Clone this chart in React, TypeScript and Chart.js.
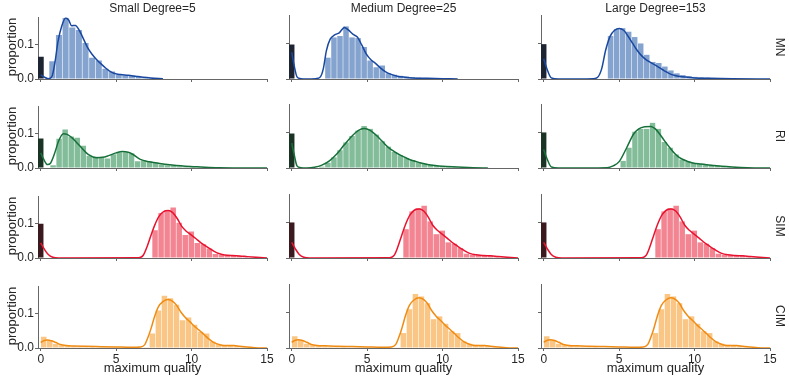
import React, { useEffect, useRef } from 'react';
import { Chart, registerables } from 'chart.js';

Chart.register(...registerables);
Chart.defaults.font.family = "'Liberation Sans', Arial, sans-serif";
Chart.defaults.color = '#262626';

// ---------- labels ----------
const COL_TITLES = ['Small Degree=5', 'Medium Degree=25', 'Large Degree=153'];
const ROW_TITLES = ['MN', 'RI', 'SIM', 'CIM'];
const X_LABEL = 'maximum quality';
const Y_LABEL = 'proportion';
const X_TICKS = [0, 5, 10, 15];
const Y_TICKS = [0, 0.1];
const X_MIN = -0.18;
const X_MAX = 15;
const Y_MAX = 0.18;

// ---------- data ----------
// bin spec = [left edge of first coloured bin, bin width]
const MN_SMALL_ZERO = 0.065;
const MN_SMALL_BIN = [0.55, 0.44];
const MN_SMALL_BARS = [0.052, 0.128, 0.178, 0.15, 0.143, 0.105, 0.062, 0.054, 0.03, 0.022, 0.012, 0.011, 0.01, 0.007, 0.004, 0.003, 0.002];
const MN_SMALL_KDE = [[0, 0.012], [0.25, 0.005], [0.5, 0.001], [0.75, 0.008], [0.95, 0.05], [1.15, 0.11], [1.4, 0.155], [1.65, 0.178], [1.85, 0.172], [2.05, 0.155], [2.3, 0.156], [2.55, 0.142], [2.8, 0.12], [3.1, 0.092], [3.4, 0.072], [3.7, 0.057], [4.0, 0.044], [4.3, 0.032], [4.6, 0.022], [4.9, 0.016], [5.3, 0.013], [5.8, 0.011], [6.3, 0.008], [6.8, 0.005], [7.3, 0.003], [8.1, 0.001]];

const MN_MEDIUM_ZERO = 0.097;
const MN_MEDIUM_BIN = [2.2, 0.4];
const MN_MEDIUM_BARS = [0.06, 0.117, 0.121, 0.148, 0.117, 0.115, 0.09, 0.052, 0.033, 0.038, 0.016, 0.012, 0.009, 0.007, 0.005, 0.004, 0.003, 0.002, 0.002, 0.001, 0.001, 0.001];
const MN_MEDIUM_KDE = [[0, 0.075], [0.15, 0.04], [0.35, 0.006], [0.6, 0.001], [1.0, 0], [1.6, 0.001], [1.9, 0.006], [2.1, 0.03], [2.3, 0.08], [2.55, 0.112], [2.85, 0.124], [3.15, 0.13], [3.5, 0.145], [3.75, 0.138], [4.05, 0.126], [4.35, 0.118], [4.65, 0.095], [4.95, 0.07], [5.25, 0.054], [5.55, 0.044], [5.85, 0.032], [6.2, 0.021], [6.6, 0.013], [7.0, 0.008], [7.5, 0.005], [8.0, 0.003], [9.0, 0.002], [10.0, 0.001], [11.0, 0]];

const MN_LARGE_ZERO = 0.098;
const MN_LARGE_BIN = [4.23, 0.4];
const MN_LARGE_BARS = [0.121, 0.14, 0.143, 0.133, 0.118, 0.1, 0.068, 0.048, 0.045, 0.035, 0.024, 0.016, 0.011, 0.008, 0.006, 0.005, 0.004, 0.003, 0.002, 0.002, 0.002, 0.001, 0.001, 0.001];
const MN_LARGE_KDE = [[0, 0.057], [0.2, 0.03], [0.5, 0.003], [1, 0], [3.3, 0.001], [3.6, 0.006], [3.85, 0.03], [4.1, 0.08], [4.4, 0.12], [4.7, 0.137], [5.0, 0.142], [5.3, 0.137], [5.6, 0.12], [5.9, 0.1], [6.2, 0.08], [6.5, 0.065], [6.8, 0.054], [7.1, 0.046], [7.4, 0.039], [7.7, 0.031], [8.0, 0.023], [8.3, 0.016], [8.7, 0.01], [9.2, 0.006], [10, 0.003], [11, 0.002], [12.5, 0.001], [15, 0]];

const RI_SMALL_ZERO = 0.086;
const RI_SMALL_BIN = [0.62, 0.4];
const RI_SMALL_BARS = [0.008, 0.085, 0.112, 0.092, 0.088, 0.065, 0.036, 0.033, 0.03, 0.028, 0.04, 0.046, 0.046, 0.042, 0.02, 0.022, 0.02, 0.015, 0.01, 0.008, 0.007, 0.005, 0.004, 0.003, 0.002, 0.002, 0.001, 0.001];
const RI_SMALL_KDE = [[0, 0.044], [0.2, 0.025], [0.45, 0.01], [0.65, 0.014], [0.9, 0.04], [1.2, 0.08], [1.5, 0.1], [1.75, 0.098], [2.1, 0.087], [2.6, 0.064], [3.2, 0.038], [3.7, 0.03], [4.1, 0.031], [4.5, 0.036], [5.0, 0.044], [5.4, 0.048], [5.8, 0.046], [6.1, 0.04], [6.6, 0.025], [7.2, 0.018], [7.8, 0.014], [8.4, 0.01], [9.0, 0.007], [9.6, 0.005], [10.6, 0.003], [11.8, 0.001], [15, 0]];

const RI_MEDIUM_ZERO = 0.097;
const RI_MEDIUM_BIN = [1.8, 0.4];
const RI_MEDIUM_BARS = [0.004, 0.015, 0.03, 0.05, 0.072, 0.09, 0.105, 0.118, 0.11, 0.094, 0.075, 0.06, 0.045, 0.036, 0.028, 0.022, 0.016, 0.012, 0.009, 0.006, 0.005, 0.004, 0.003, 0.002, 0.002, 0.001, 0.001];
const RI_MEDIUM_KDE = [[0, 0.07], [0.15, 0.04], [0.35, 0.006], [0.6, 0.001], [1.0, 0], [1.5, 0.002], [2.0, 0.008], [2.5, 0.02], [3.0, 0.04], [3.5, 0.066], [4.0, 0.09], [4.4, 0.105], [4.8, 0.111], [5.2, 0.106], [5.6, 0.092], [6.0, 0.075], [6.4, 0.058], [6.8, 0.046], [7.2, 0.036], [7.6, 0.028], [8.0, 0.021], [8.5, 0.015], [9.0, 0.01], [9.5, 0.007], [10, 0.005], [11, 0.003], [12, 0.001], [13, 0]];

const RI_LARGE_ZERO = 0.1;
const RI_LARGE_BIN = [5.07, 0.39];
const RI_LARGE_BARS = [0.02, 0.057, 0.102, 0.11, 0.11, 0.127, 0.11, 0.073, 0.057, 0.038, 0.024, 0.019, 0.014, 0.012, 0.01, 0.008, 0.006, 0.004, 0.003, 0.002, 0.002, 0.001, 0.001];
const RI_LARGE_KDE = [[0, 0.052], [0.2, 0.028], [0.5, 0.003], [1, 0], [4.2, 0.001], [4.6, 0.006], [5.0, 0.018], [5.5, 0.057], [5.95, 0.095], [6.3, 0.11], [6.7, 0.116], [7.1, 0.117], [7.4, 0.11], [7.7, 0.095], [8.0, 0.077], [8.4, 0.055], [8.7, 0.04], [9.0, 0.029], [9.5, 0.019], [9.9, 0.014], [10.4, 0.011], [10.8, 0.009], [11.3, 0.007], [11.8, 0.005], [12.5, 0.003], [13.5, 0.001], [15, 0]];

const SIM_ZERO = 0.1;
const SIM_BIN = [7.38, 0.4];
const SIM_BARS = [0.081, 0.131, 0.14, 0.147, 0.103, 0.067, 0.077, 0.044, 0.04, 0.028, 0.012, 0.009, 0.008, 0.007, 0.006, 0.004, 0.002];
const SIM_KDE = [[0, 0.044], [0.25, 0.025], [0.5, 0.01], [0.8, 0.002], [1.2, 0], [6.5, 0.001], [6.8, 0.008], [7.05, 0.033], [7.3, 0.065], [7.55, 0.095], [7.85, 0.122], [8.15, 0.135], [8.45, 0.138], [8.75, 0.132], [9.05, 0.115], [9.35, 0.092], [9.65, 0.078], [9.95, 0.068], [10.3, 0.056], [10.6, 0.045], [11.0, 0.033], [11.4, 0.022], [11.8, 0.013], [12.2, 0.009], [12.7, 0.007], [13.2, 0.006], [13.7, 0.004], [14.3, 0.002], [15, 0]];

const CIM_BIN = [0, 0.4];
const CIM_BARS = [0.033, 0.023, 0.012, 0.008, 0.006, 0.005, 0.004, 0.003, 0.003, 0.002, 0.002, 0.002, 0.001, 0.001, 0.001, 0.001, 0.001, 0.001, 0.042, 0.109, 0.152, 0.145, 0.126, 0.081, 0.089, 0.068, 0.047, 0.042, 0.019, 0.012, 0.009, 0.008, 0.006, 0.003, 0.002];
const CIM_KDE = [[0, 0.016], [0.2, 0.021], [0.45, 0.023], [0.7, 0.021], [1.0, 0.016], [1.3, 0.01], [1.7, 0.007], [2.2, 0.006], [3, 0.005], [4, 0.004], [5, 0.003], [6, 0.002], [6.6, 0.003], [6.9, 0.01], [7.1, 0.03], [7.3, 0.055], [7.55, 0.092], [7.8, 0.12], [8.1, 0.135], [8.45, 0.141], [8.75, 0.136], [9.0, 0.125], [9.3, 0.104], [9.6, 0.088], [9.9, 0.076], [10.2, 0.063], [10.5, 0.052], [10.8, 0.04], [11.1, 0.028], [11.4, 0.018], [11.7, 0.012], [12.0, 0.008], [12.4, 0.007], [12.8, 0.007], [13.2, 0.005], [13.7, 0.003], [14.2, 0.001], [15, 0]];

// ---------- styles ----------
const BAR_COLORS = ['#84a3cf', '#82bc99', '#f38592', '#f9c685'];
const LINE_COLORS = ['#1a48a0', '#17703a', '#e8132f', '#f08c14'];
const DARK_COLORS = ['#1d2533', '#1b3325', '#3b1a1f', '#1d2533'];
const AXIS_COLOR = '#666666';
const TEXT_COLOR = '#262626';

type PanelData = { zero: number | null; bin: number[]; bars: number[]; kde: number[][] };

const PANELS: PanelData[][] = [
  [
    { zero: MN_SMALL_ZERO, bin: MN_SMALL_BIN, bars: MN_SMALL_BARS, kde: MN_SMALL_KDE },
    { zero: MN_MEDIUM_ZERO, bin: MN_MEDIUM_BIN, bars: MN_MEDIUM_BARS, kde: MN_MEDIUM_KDE },
    { zero: MN_LARGE_ZERO, bin: MN_LARGE_BIN, bars: MN_LARGE_BARS, kde: MN_LARGE_KDE },
  ],
  [
    { zero: RI_SMALL_ZERO, bin: RI_SMALL_BIN, bars: RI_SMALL_BARS, kde: RI_SMALL_KDE },
    { zero: RI_MEDIUM_ZERO, bin: RI_MEDIUM_BIN, bars: RI_MEDIUM_BARS, kde: RI_MEDIUM_KDE },
    { zero: RI_LARGE_ZERO, bin: RI_LARGE_BIN, bars: RI_LARGE_BARS, kde: RI_LARGE_KDE },
  ],
  [
    { zero: SIM_ZERO, bin: SIM_BIN, bars: SIM_BARS, kde: SIM_KDE },
    { zero: SIM_ZERO, bin: SIM_BIN, bars: SIM_BARS, kde: SIM_KDE },
    { zero: SIM_ZERO, bin: SIM_BIN, bars: SIM_BARS, kde: SIM_KDE },
  ],
  [
    { zero: null, bin: CIM_BIN, bars: CIM_BARS, kde: CIM_KDE },
    { zero: null, bin: CIM_BIN, bars: CIM_BARS, kde: CIM_KDE },
    { zero: null, bin: CIM_BIN, bars: CIM_BARS, kde: CIM_KDE },
  ],
];

// ---------- layout ----------
const PLOT_LEFT = [38, 289, 541];
const PLOT_W = 229;
const PLOT_BOTTOM = [79, 168, 258, 348];
const PLOT_H = 64;
const YW = 40;
const XH = 26;
const PT = 6;
const PR = 8;

function Panel({ r, c }: { r: number; c: number }) {
  const ref = useRef<HTMLCanvasElement | null>(null);
  const W = YW + PLOT_W + PR;
  const H = PT + PLOT_H + XH;
  const left = PLOT_LEFT[c] - YW;
  const top = PLOT_BOTTOM[r] - PLOT_H - PT;

  useEffect(() => {
    const p = PANELS[r][c];
    const barData: { x: number; y: number }[] = [];
    const colors: string[] = [];
    if (p.zero !== null) {
      barData.push({ x: 0, y: p.zero });
      colors.push(DARK_COLORS[r]);
    }
    p.bars.forEach((h, i) => {
      barData.push({ x: p.bin[0] + p.bin[1] * (i + 0.5), y: h });
      colors.push(BAR_COLORS[r]);
    });
    const kdeData = p.kde.map(([x, y]) => ({ x, y }));

    const chart = new Chart(ref.current as HTMLCanvasElement, {
      type: 'bar',
      data: {
        datasets: [
          {
            type: 'line',
            data: kdeData,
            borderColor: LINE_COLORS[r],
            borderWidth: 1.5,
            pointRadius: 0,
            fill: false,
            cubicInterpolationMode: 'monotone',
            order: 0,
          } as any,
          {
            type: 'bar',
            data: barData,
            backgroundColor: colors,
            borderWidth: 0,
            barPercentage: 0.91,
            categoryPercentage: 1,
            order: 1,
          } as any,
        ],
      },
      options: {
        animation: false,
        responsive: false,
        devicePixelRatio: 1,
        layout: { padding: { top: PT, right: PR, left: 0, bottom: 0 } },
        plugins: { legend: { display: false }, tooltip: { enabled: false } },
        scales: {
          x: {
            type: 'linear',
            min: X_MIN,
            max: X_MAX,
            offset: false,
            grid: { display: true, drawOnChartArea: false, drawTicks: true, tickLength: 3, tickColor: AXIS_COLOR, tickWidth: 1, offset: false },
            border: { display: true, color: AXIS_COLOR, width: 1 },
            ticks: { display: r === 3, font: { size: 12 }, color: TEXT_COLOR, padding: 1, maxRotation: 0, autoSkip: false, callback: (v: any) => String(v) },
            afterBuildTicks: (s: any) => { s.ticks = X_TICKS.map((v) => ({ value: v })); },
            afterFit: (s: any) => { s.height = XH; },
          } as any,
          y: {
            type: 'linear',
            min: 0,
            max: Y_MAX,
            grid: { display: true, drawOnChartArea: false, drawTicks: true, tickLength: 3, tickColor: AXIS_COLOR, tickWidth: 1 },
            border: { display: true, color: AXIS_COLOR, width: 1 },
            ticks: { display: c === 0, font: { size: 12 }, color: TEXT_COLOR, padding: 1, callback: (v: any) => Number(v).toFixed(1) },
            afterBuildTicks: (s: any) => { s.ticks = Y_TICKS.map((v) => ({ value: v })); },
            afterFit: (s: any) => { s.width = YW; },
          } as any,
        },
      },
    });
    return () => chart.destroy();
  }, [r, c]);

  return (
    <canvas
      ref={ref}
      width={W}
      height={H}
      style={{ position: 'absolute', left, top, width: W, height: H }}
    />
  );
}

const textBase: React.CSSProperties = {
  position: 'absolute',
  fontFamily: "'Liberation Sans', Arial, sans-serif",
  color: TEXT_COLOR,
  whiteSpace: 'nowrap',
};

export default function App() {
  const panels: JSX.Element[] = [];
  for (let r = 0; r < 4; r++) for (let c = 0; c < 3; c++) panels.push(<Panel key={`${r}-${c}`} r={r} c={c} />);

  return (
    <div style={{ position: 'absolute', left: 0, top: 0, width: 789, height: 380, background: '#fff', overflow: 'hidden' }}>
      {panels}
      {COL_TITLES.map((t, c) => (
        <div key={t} style={{ ...textBase, fontSize: 12, lineHeight: '12px', top: 1.5, left: PLOT_LEFT[c] + PLOT_W / 2, transform: 'translateX(-50%)' }}>{t}</div>
      ))}
      {ROW_TITLES.map((t, r) => (
        <div key={t} style={{ ...textBase, fontSize: 12, lineHeight: '12px', left: 780, top: PLOT_BOTTOM[r] - PLOT_H / 2, transform: 'translate(-50%, -50%) rotate(90deg)' }}>{t}</div>
      ))}
      {ROW_TITLES.map((t, r) => (
        <div key={'yl' + t} style={{ ...textBase, fontSize: 13, lineHeight: '13px', left: 11, top: PLOT_BOTTOM[r] - PLOT_H / 2, transform: 'translate(-50%, -50%) rotate(-90deg)' }}>{Y_LABEL}</div>
      ))}
      {COL_TITLES.map((t, c) => (
        <div key={'xl' + t} style={{ ...textBase, fontSize: 13, lineHeight: '13px', top: 361, left: PLOT_LEFT[c] + PLOT_W / 2, transform: 'translateX(-50%)' }}>{X_LABEL}</div>
      ))}
    </div>
  );
}
